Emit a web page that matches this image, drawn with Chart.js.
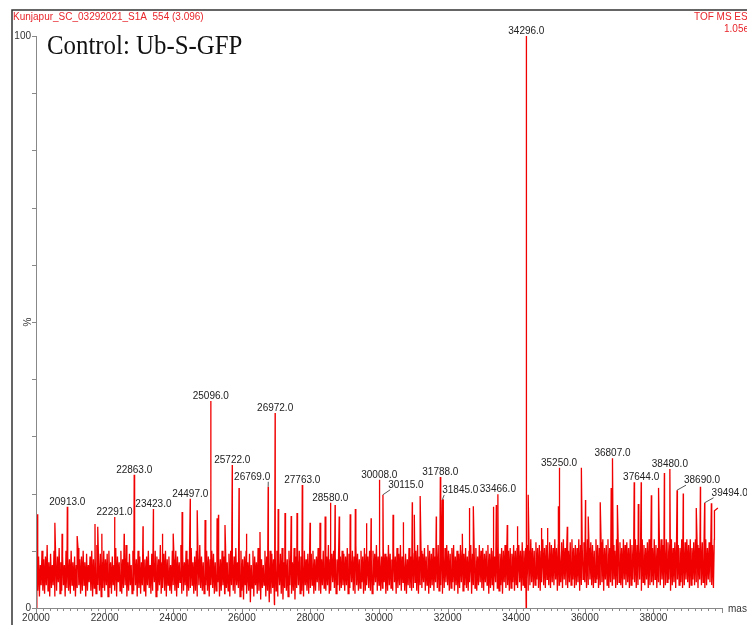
<!DOCTYPE html>
<html>
<head>
<meta charset="utf-8">
<script src="https://cdn.jsdelivr.net/npm/chart.js@4/dist/chart.umd.min.js"></script>
<style>
  html, body { margin: 0; padding: 0; background: #fff; }
  canvas { display: block; }
</style>
</head>
<body>
<canvas id="spectrum" width="747" height="625"></canvas>
<script>
// labelled peaks (mass, % intensity)
const peakMasses = [20913, 22291, 22863, 23423, 24497, 25096, 25722, 26769, 26972, 27763,
                    28580, 30008, 30115, 31788, 31845, 33466, 34296, 35250, 36807, 37644,
                    38480, 38690, 39494];
const peakHeights = [17.7, 15.9, 23.3, 17.3, 19.1, 36.2, 25.0, 21.2, 34.1, 21.5,
                     18.4, 22.4, 19.8, 22.9, 18.9, 19.9, 100, 24.5, 26.2, 22.0,
                     24.3, 20.6, 18.4];

// unlabelled spikes
const minorMasses = [20030, 20550, 20760, 21200, 21720, 21800, 21920, 22570, 23120, 23680,
                     24000, 24260, 24700, 24930, 25280, 25320, 25510, 25920, 26130, 26530,
                     27060, 27260, 27440, 27610, 27990, 28280, 28430, 28720, 28840, 29160,
                     29310, 29630, 29770, 30410, 30700, 30970, 31030, 31200, 31670, 31870,
                     32430, 32630, 32750, 33330, 33420, 33740, 34030, 34350, 34730, 34910,
                     35230, 35490, 35900, 36020, 36100, 36450, 36770, 36950, 37440, 37560,
                     37940, 38150, 38320, 38870, 39250, 39370, 39690, 39780, 39880];
const minorHeights = [16.4, 14.9, 13.0, 12.6, 14.7, 14.2, 13.0, 13.0, 14.3, 13.0,
                      13.0, 16.8, 17.1, 15.4, 15.7, 16.3, 14.5, 21.0, 13.0, 13.3,
                      17.3, 16.6, 16.1, 16.6, 14.9, 14.9, 16.0, 18.0, 16.0, 16.4,
                      17.3, 14.8, 15.7, 16.3, 15.0, 18.5, 16.3, 19.6, 16.0, 19.0,
                      13.0, 17.5, 17.8, 17.7, 18.0, 14.5, 14.3, 19.8, 14.0, 14.0,
                      17.8, 14.2, 24.5, 18.9, 16.0, 18.5, 21.0, 18.0, 22.0, 18.2,
                      19.7, 21.0, 23.6, 20.0, 17.5, 21.2, 18.3, 17.0, 17.5];

// points where the trace drops to the baseline
const dipMasses = [26955, 34290];
const dipHeights = [0.5, 0];

// baseline noise: troughs every 50 Da from 20000, crests every 50 Da from 20025
const noiseStart = 20000;
const noiseStep = 50;
const noiseLow = [
  0,3,2,4,3,2.5,4,3,2,3.5,4,2,3,4.5,2.5,3,4,2,3.5,3,
  2.5,4,3,2,3.5,4,2.5,3,4,2,3,4.5,3,2,3.5,2.5,4,3,2,3.5,
  3,4,2,3.5,2.5,4,3,2,4.5,3,2.5,3.5,4,2,3,4,2.5,3,4,2,
  3.5,2.5,4,3,2,4,3.5,2.5,3,4.5,2,3,4,2.5,3.5,3,2,4,3,2.5,
  4,3,2,3.5,4.5,2.5,3,4,2,3,3.5,4,2.5,3,2,4,3.5,3,2.5,4,
  3,2,4,3.5,2.5,3,4.5,2,3,4,2.5,3.5,3,2,4,3,2.5,4,3.5,2,
  3,1.5,4,2.5,3,1,3.5,2,4,2.5,3,1.5,3.5,4,2,3,1,2.5,3.5,0.8,
  3,2,4,2.5,1.5,3.5,3,2,4,2.5,3,1.5,3.5,4,2.5,3,2,4,3,2.5,
  3.5,4,2.5,3,4.5,3,2.5,4,3.5,3,4,2.5,3,4.5,3.5,2.5,4,3,3.5,4,
  3,4,2.5,3.5,4.5,3,2.5,4,3,3.5,4.5,2.5,3,4,3.5,3,2.5,4,4.5,3,
  4,3,3.5,4.5,2.5,3,4,3.5,3,4.5,2.5,3.5,4,3,4.5,3,2.5,4,3.5,3,
  3.5,4.5,3,2.5,4,3.5,4.5,3,4,2.5,3.5,4,3,4.5,3.5,3,4,2.5,3.5,4.5,
  4,3,3.5,4.5,3,4,2.5,3.5,4.5,3,4,3.5,3,4.5,2.5,4,3.5,3,4,4.5,
  3.5,3,4.5,4,2.5,3.5,4,3,4.5,3.5,3,4,2.5,4.5,3.5,4,3,3.5,4.5,3,
  4,3.5,4.5,3,4,3.5,5,3,4,4.5,3.5,4,5,3.5,3,4.5,4,3.5,5,4,
  3.5,4.5,4,5,3,4,4.5,3.5,5,4,3.5,4.5,4,5,3.5,4,4.5,3,4,5,
  4.5,3.5,4,5,4,3.5,4.5,5,3.5,4,4.5,3,5,4,3.5,4.5,4,5,3.5,4,
  4.5,4,3.5,5,4,4.5,3.5,4,5,4.5,3.5,4,5,3,4.5,4,5,3.5,4,4.5,
  4,5,3.5,4.5,4,5,3.5,4,4.5,5,3,4,4.5,3.5,5,4,4.5,3.5,4,5,
  4.5,3.5,4,5,4,4.5,3.5,5,4,4.5,3.5,4,5,4.5,4,3.5
];
const noiseHigh = [
  8,9,7.5,10,8.5,9,11,8,9.5,7.5,10,8.5,9,10.5,8,9,7.5,10,9,8.5,
  10,8,9,7.5,10.5,8.5,9,10,8,9.5,7.5,9,10,8.5,9,11,8,9.5,8,10,
  8.5,9.5,10,8,9,7.5,10.5,9,8,10,8.5,9,11,8,9.5,7.5,10,9,8.5,10,
  9,8,10.5,8.5,9,10,7.5,9.5,8,10,9,8.5,11,8,9.5,10,8.5,9,7.5,10,
  8.5,10,9,8,11,9.5,8,10,8.5,9,10.5,8,9,10,8.5,11,9,8,9.5,10,
  9,8.5,10,9.5,8,10.5,9,8.5,10,9,11,8,9.5,10,8.5,9,10.5,8,9,10,
  8.5,9,10,8,9.5,7.5,10,9,8,10.5,9,8.5,7.5,10,9,8,10,9.5,8.5,9,
  10,8,9.5,10.5,8,9,8.5,10,9,8,10.5,9,8.5,10,9,7.5,10,8.5,9.5,9,
  9.5,10,8.5,9,10.5,9,8.5,10,9.5,9,11,8.5,9.5,10,9,8.5,10.5,9,10,9.5,
  9,10.5,9.5,8.5,10,9,11,9.5,8.5,10,9,10.5,9.5,9,10,8.5,10,9.5,11,9,
  10,9,10.5,9.5,9,11,9.5,8.5,10,9,10.5,9.5,11,9,10,9.5,8.5,10.5,9,10,
  9.5,10,11,9,10,9.5,10.5,9,11,10,9.5,10.5,9,10,11,9.5,10,9,10.5,11,
  10,9.5,10.5,11,9,10,9.5,11,10,9.5,10.5,9,10,11,9.5,10,10.5,9,11,10,
  10.5,9.5,10,11,9.5,10.5,10,9,11,10,9.5,10.5,10,11,9.5,10,10.5,9.5,11,10,
  10.5,11,10,11.5,10,10.5,11,10,12,10.5,10,11.5,10.5,11,10,12,10.5,11,10,11.5,
  11,10.5,12,10.5,11,10,11.5,12,10.5,11,10,11.5,12,10.5,11,10.5,12,11,10.5,11.5,
  11,12,10.5,11.5,11,10,12,11,10.5,11.5,12,10.5,11,12,10.5,11.5,11,10,12,11,
  11.5,10.5,12,11,11.5,10.5,12,11,10.5,12,11,11.5,10.5,12,11,10.5,11.5,12,11,10.5,
  12,11,10.5,11.5,12,11,10.5,12,11.5,11,12,10.5,11.5,12,11,10.5,12,11,11.5,12,
  11,12,10.5,11.5,12,11,10.5,12,11.5,11,12,10.5,11.5,12,11,12
];

const xTickValues = [20000, 22000, 24000, 26000, 28000, 30000, 32000, 34000, 36000, 38000];
const yTickValues = [0, 100];

// build the trace
let trace = [];
noiseLow.forEach((v, i) => trace.push({ x: noiseStart + i * noiseStep, y: v }));
noiseHigh.forEach((v, i) => trace.push({ x: noiseStart + noiseStep / 2 + i * noiseStep, y: v }));
minorMasses.forEach((m, i) => trace.push({ x: m, y: minorHeights[i] }));
dipMasses.forEach((m, i) => trace.push({ x: m, y: dipHeights[i] }));
peakMasses.forEach((m, i) => trace.push({ x: m, y: peakHeights[i] }));
trace.sort((a, b) => a.x - b.x);

// labels that sit beside their peak with a short leader line
const labelShift = { 26769: -16, 30115: 23, 31845: 18, 38690: 25, 39494: 25 };

const spectrumDecor = {
  id: 'spectrumDecor',
  afterDraw(chart) {
    const c = chart.ctx;
    const xs = chart.scales.x, ys = chart.scales.y;
    const area = chart.chartArea;
    c.save();

    // outer frame
    c.strokeStyle = '#333';
    c.lineWidth = 1.5;
    c.beginPath();
    c.moveTo(12, 625);
    c.lineTo(12, 10);
    c.lineTo(747, 10);
    c.stroke();

    // header texts
    c.fillStyle = '#e8262c';
    c.font = '10px "Liberation Sans", Arial, sans-serif';
    c.textAlign = 'left';
    c.textBaseline = 'alphabetic';
    c.fillText('Kunjapur_SC_03292021_S1A  554 (3.096)', 13, 20);
    c.fillText('TOF MS ES-', 694, 20);
    c.fillText('1.05e4', 724, 32);

    c.save();
    c.fillStyle = '#111';
    c.font = '28px "Liberation Serif", "Times New Roman", serif';
    c.translate(47, 54);
    c.scale(0.8875, 1);
    c.fillText('Control: Ub-S-GFP', 0, 0);
    c.restore();

    // y axis
    c.strokeStyle = '#888';
    c.lineWidth = 1;
    c.beginPath();
    c.moveTo(area.left + 0.5, area.top);
    c.lineTo(area.left + 0.5, area.bottom);
    for (let v = 0; v <= 100; v += 10) {
      const y = Math.round(ys.getPixelForValue(v)) + 0.5;
      c.moveTo(area.left - 4, y);
      c.lineTo(area.left, y);
    }
    c.stroke();
    c.fillStyle = '#333';
    c.font = '10px "Liberation Sans", Arial, sans-serif';
    c.textAlign = 'right';
    c.textBaseline = 'middle';
    yTickValues.forEach(v => c.fillText(String(v), area.left - 5, ys.getPixelForValue(v)));
    c.save();
    c.translate(28, ys.getPixelForValue(50));
    c.rotate(-Math.PI / 2);
    c.textAlign = 'center';
    c.fillText('%', 0, 0);
    c.restore();

    // x axis
    c.beginPath();
    c.moveTo(area.left, area.bottom + 0.5);
    c.lineTo(area.right, area.bottom + 0.5);
    for (let m = 20000; m <= 40000; m += 200) {
      const x = Math.round(xs.getPixelForValue(m)) + 0.5;
      c.moveTo(x, area.bottom);
      c.lineTo(x, area.bottom + (m % 2000 === 0 ? 5 : 3));
    }
    c.stroke();
    c.font = '10px "Liberation Sans", Arial, sans-serif';
    c.textAlign = 'center';
    c.textBaseline = 'top';
    xTickValues.forEach(m => c.fillText(String(m), xs.getPixelForValue(m), area.bottom + 5));
    c.textAlign = 'left';
    c.textBaseline = 'middle';
    c.fillText('mass', area.right + 6, area.bottom + 1);

    // peak labels
    c.font = '10px "Liberation Sans", Arial, sans-serif';
    c.textBaseline = 'alphabetic';
    c.textAlign = 'center';
    c.strokeStyle = '#555';
    peakMasses.forEach((m, i) => {
      const px = xs.getPixelForValue(m);
      const py = ys.getPixelForValue(peakHeights[i]);
      const text = m.toFixed(1);
      const dx = labelShift[m];
      c.fillStyle = '#222';
      if (dx) {
        const w = c.measureText(text).width;
        const cx = px + dx;
        const edge = dx < 0 ? cx + w / 2 - 2 : cx - w / 2 + 2;
        c.fillText(text, cx, py - 7);
        c.beginPath();
        c.moveTo(edge, py - 5);
        c.lineTo(px, py);
        c.stroke();
      } else {
        c.fillText(text, px, py - 2);
      }
    });
    c.restore();
  }
};

new Chart(document.getElementById('spectrum').getContext('2d'), {
  type: 'line',
  data: {
    datasets: [{
      data: trace,
      borderColor: 'rgb(240, 0, 0)',
      borderWidth: 1.3,
      pointRadius: 0,
      tension: 0,
      fill: false
    }]
  },
  options: {
    responsive: false,
    animation: false,
    devicePixelRatio: 1,
    parsing: false,
    layout: { padding: { left: 36, right: 25, top: 36, bottom: 17 } },
    scales: {
      x: { type: 'linear', min: 20000, max: 40000, display: false },
      y: { min: 0, max: 100, display: false }
    },
    plugins: {
      legend: { display: false },
      tooltip: { enabled: false }
    }
  },
  plugins: [spectrumDecor]
});
</script>
</body>
</html>
